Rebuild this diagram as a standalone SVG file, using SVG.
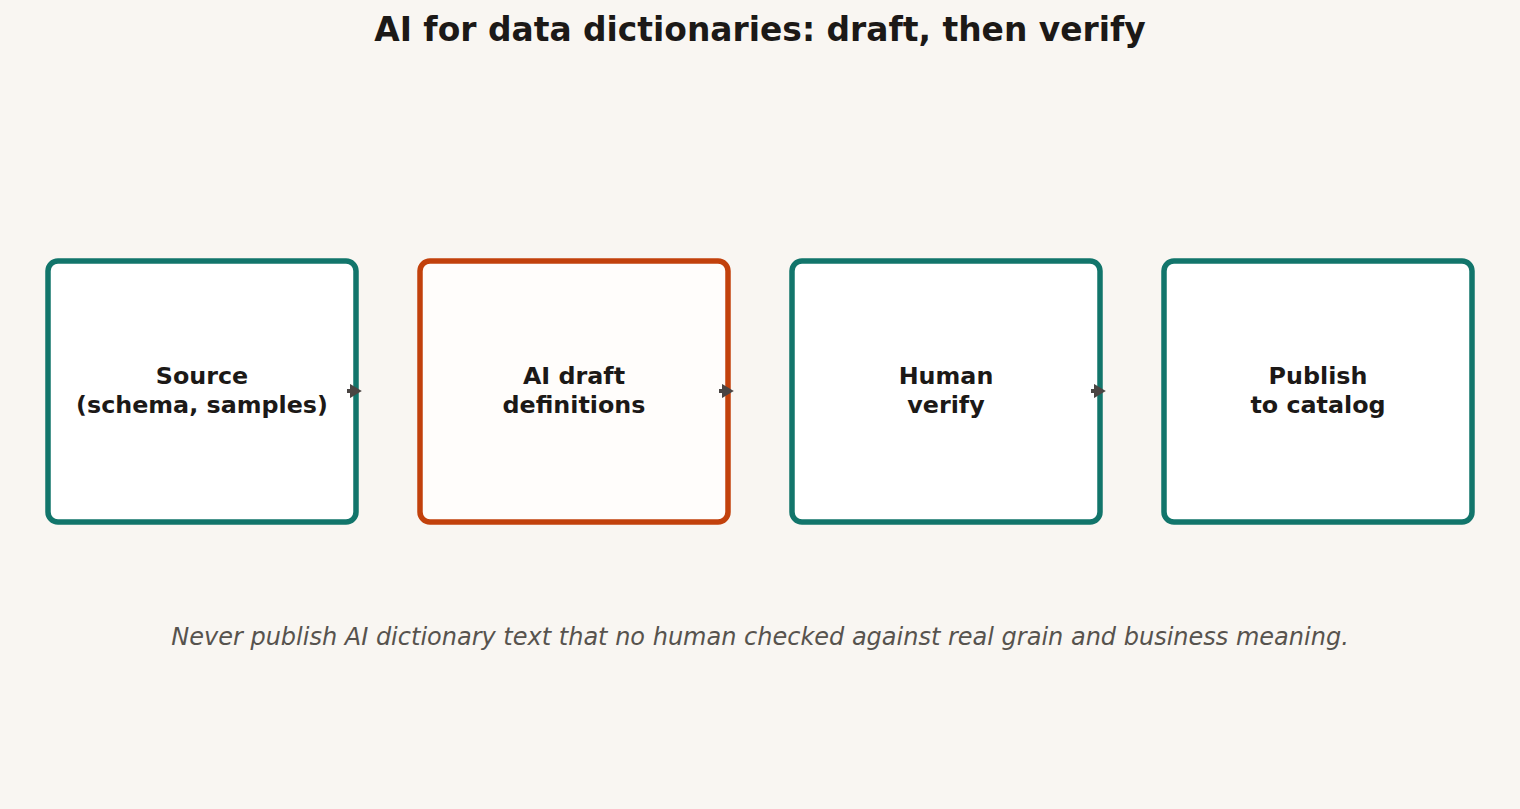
<svg xmlns="http://www.w3.org/2000/svg" width="1520" height="809" viewBox="0 0 1520 809">
<defs>
<style>
.box{fill:#ffffff;stroke:#12756b;stroke-width:5.5}
.box.ai{fill:#fffdfb;stroke:#c2410c}
.lbl{font-family:"DejaVu Sans",sans-serif;font-weight:bold;font-size:23.8px;fill:#1c1917;text-anchor:middle}
.title{font-family:"DejaVu Sans",sans-serif;font-weight:bold;font-size:32.9px;fill:#1c1917;text-anchor:middle}
.note{font-family:"DejaVu Sans",sans-serif;font-style:italic;font-size:24px;fill:#57534e;text-anchor:middle}
.conn{stroke:#4a4543;stroke-width:4;fill:none}
</style>
<marker id="ah" viewBox="0 0 10 12" refX="1" refY="6" markerWidth="3" markerHeight="3.6" orient="auto" markerUnits="strokeWidth">
<path d="M0,0 L10,6 L0,12 z" fill="#4a4543"/>
</marker>
</defs>
<rect width="1520" height="809" fill="#f9f6f2"/>
<text class="title" x="760" y="41">AI for data dictionaries: draft, then verify</text>
<g id="n1">
<rect class="box" x="48" y="261" width="308" height="261" rx="10"/>
<text class="lbl" x="202" y="384">Source</text>
<text class="lbl" x="202" y="413">(schema, samples)</text>
</g>
<g id="n2">
<rect class="box ai" x="420" y="261" width="308" height="261" rx="10"/>
<text class="lbl" x="574" y="384">AI draft</text>
<text class="lbl" x="574" y="413">definitions</text>
</g>
<g id="n3">
<rect class="box" x="792" y="261" width="308" height="261" rx="10"/>
<text class="lbl" x="946" y="384">Human</text>
<text class="lbl" x="946" y="413">verify</text>
</g>
<g id="n4">
<rect class="box" x="1164" y="261" width="308" height="261" rx="10"/>
<text class="lbl" x="1318" y="384">Publish</text>
<text class="lbl" x="1318" y="413">to catalog</text>
</g>
<g id="connectors">
<path class="conn" d="M347 391 L351 391" marker-end="url(#ah)"/>
<path class="conn" d="M719 391 L723 391" marker-end="url(#ah)"/>
<path class="conn" d="M1091 391 L1095 391" marker-end="url(#ah)"/>
</g>
<text class="note" x="760" y="645">Never publish AI dictionary text that no human checked against real grain and business meaning.</text>
</svg>
